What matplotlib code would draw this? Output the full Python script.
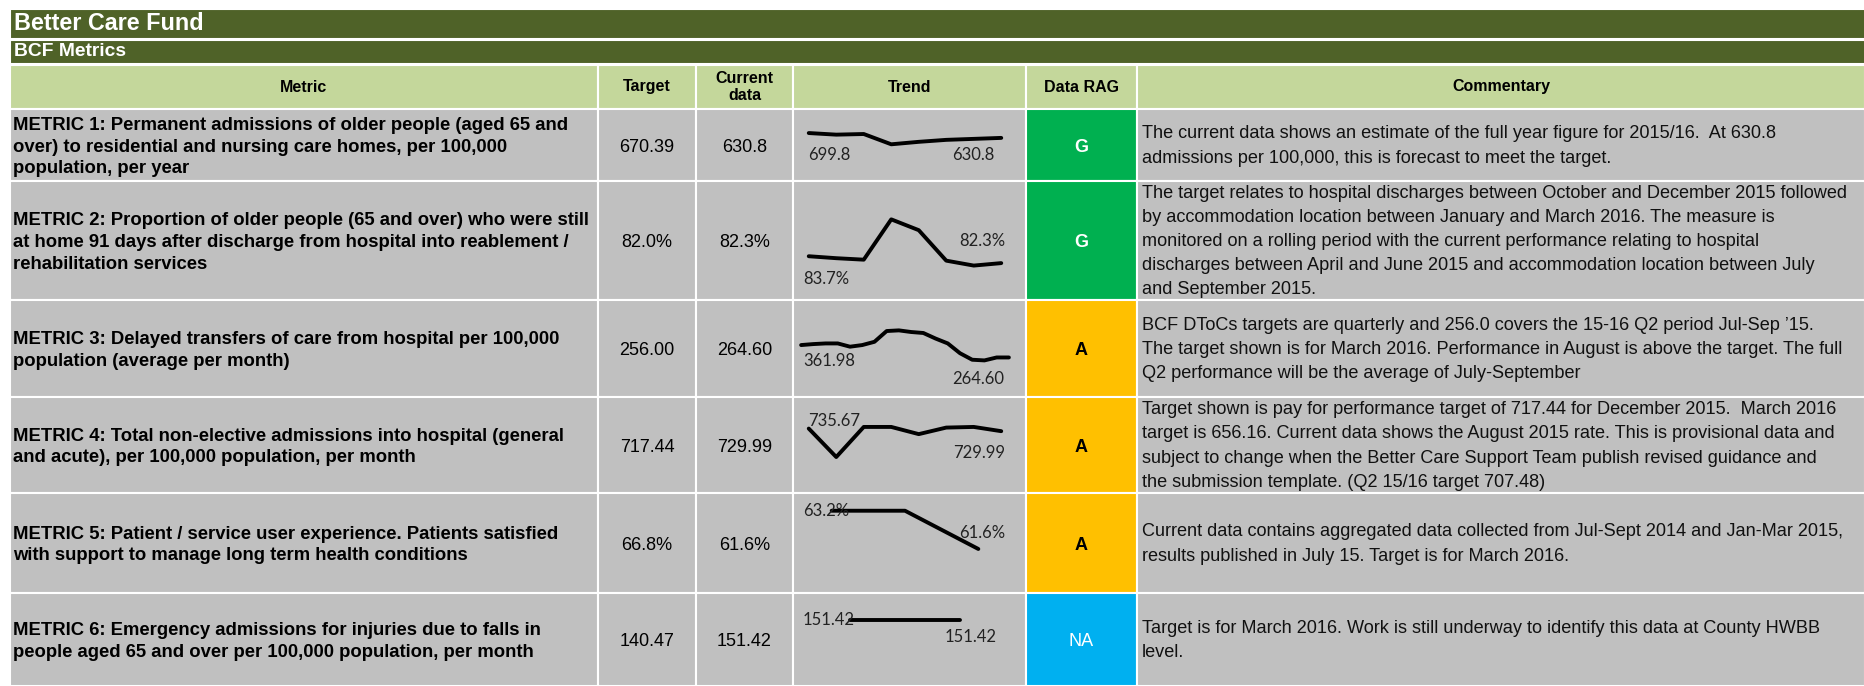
import matplotlib.pyplot as plt
from matplotlib.patches import Rectangle

# =====================
# data
# =====================
title = "Better Care Fund"
subtitle = "BCF Metrics"
headers = ["Metric", "Target", "Current\ndata", "Trend", "Data RAG", "Commentary"]

metrics = [
    "METRIC 1: Permanent admissions of older people (aged 65 and\nover) to residential and nursing care homes, per 100,000\npopulation, per year",
    "METRIC 2: Proportion of older people (65 and over) who were still\nat home 91 days after discharge from hospital into reablement /\nrehabilitation services",
    "METRIC 3: Delayed transfers of care from hospital per 100,000\npopulation (average per month)",
    "METRIC 4: Total non-elective admissions into hospital (general\nand acute), per 100,000 population, per month",
    "METRIC 5: Patient / service user experience. Patients satisfied\nwith support to manage long term health conditions",
    "METRIC 6: Emergency admissions for injuries due to falls in\npeople aged 65 and over per 100,000 population, per month",
]
targets = ["670.39", "82.0%", "256.00", "717.44", "66.8%", "140.47"]
current = ["630.8", "82.3%", "264.60", "729.99", "61.6%", "151.42"]
rag = ["G", "G", "A", "A", "A", "NA"]

trend1 = [699.8, 677, 686, 540, 575, 603, 617, 630.8]
trend2 = [83.7, 83.3, 83.0, 91.2, 89.0, 82.8, 81.8, 82.3]
trend3 = [361.98, 369.7, 374.8, 374.8, 349.2, 362.0, 387.6, 472.2, 477.3,
          464.5, 456.8, 413.2, 374.8, 297.9, 246.7, 241.5, 264.6, 264.6]
trend4 = [735.67, 673.9, 739.2, 739.2, 723.6, 737.8, 739.2, 729.99]
trend5 = [63.2, 63.2, 61.6]
trend6 = [151.42, 151.42]
trends = [trend1, trend2, trend3, trend4, trend5, trend6]
first_labels = ["699.8", "83.7%", "361.98", "735.67", "63.2%", "151.42"]
last_labels = ["630.8", "82.3%", "264.60", "729.99", "61.6%", "151.42"]

commentary = [
    "The current data shows an estimate of the full year figure for 2015/16.  At 630.8\nadmissions per 100,000, this is forecast to meet the target.",
    "The target relates to hospital discharges between October and December 2015 followed\nby accommodation location between January and March 2016. The measure is\nmonitored on a rolling period with the current performance relating to hospital\ndischarges between April and June 2015 and accommodation location between July\nand September 2015.",
    "BCF DToCs targets are quarterly and 256.0 covers the 15-16 Q2 period Jul-Sep \u201915.\nThe target shown is for March 2016. Performance in August is above the target. The full\nQ2 performance will be the average of July-September",
    "Target shown is pay for performance target of 717.44 for December 2015.  March 2016\ntarget is 656.16. Current data shows the August 2015 rate. This is provisional data and\nsubject to change when the Better Care Support Team publish revised guidance and\nthe submission template. (Q2 15/16 target 707.48)",
    "Current data contains aggregated data collected from Jul-Sept 2014 and Jan-Mar 2015,\nresults published in July 15. Target is for March 2016.",
    "Target is for March 2016. Work is still underway to identify this data at County HWBB\nlevel.",
]

# =====================
# layout / style
# =====================
W, H = 1865, 686
col_edges = [9.5, 598, 696, 793, 1026, 1137, 1865]
row_edges = [109, 181, 300, 397, 493, 593, 686]
dark_green = "#4F6228"
light_green = "#C4D79B"
grey = "#C0C0C0"
rag_colors = {"G": "#00B050", "A": "#FFC000", "NA": "#00B0F0"}
rag_text = {"G": ("white", "bold"), "A": ("black", "bold"), "NA": ("white", "normal")}
spark_ylims = [(33, 1027), (75.0, 98.8), (-38, 708), (598, 802), (59.8, 63.9), (80, 180)]
# label offsets in pixels: (ha, dx, dy) for first / last label
first_off = [("left", -1, -22), ("left", -5, -23), ("left", 2, -16),
             ("left", -1, 8), ("center", -5, 0), ("right", 5, 0)]
last_off = [("right", -7, -17), ("right", 4, 22), ("right", -5, -22),
            ("right", 4, -22), ("center", 4, 16), ("center", 11, -17)]

plt.rcParams["font.family"] = ["Liberation Sans", "DejaVu Sans"]

fig = plt.figure(figsize=(W / 100, H / 100), dpi=100)
ax = fig.add_axes([0, 0, 1, 1])
ax.set_xlim(0, W)
ax.set_ylim(H, 0)
ax.axis("off")


def cell(x0, y0, x1, y1, color):
    ax.add_patch(Rectangle((x0, y0), x1 - x0, y1 - y0, facecolor=color,
                           edgecolor="white", linewidth=1.5))


# title bars
cell(col_edges[0], 9, W + 5, 38.5, dark_green)
ax.text(14, 24, title, color="white", fontsize=16.8, fontweight="bold", va="center")
cell(col_edges[0], 39.5, W + 5, 64, dark_green)
ax.text(14, 52, subtitle, color="white", fontsize=13.9, fontweight="bold", va="center")

# header row
for i, h in enumerate(headers):
    cell(col_edges[i], 64.5, col_edges[i + 1], row_edges[0], light_green)
    ax.text((col_edges[i] + col_edges[i + 1]) / 2, 87, h, ha="center", va="center",
            fontsize=11.5, fontweight="bold", linespacing=1.15)

# body rows
for r in range(6):
    y0, y1 = row_edges[r], row_edges[r + 1]
    yc = (y0 + y1) / 2
    for c in range(6):
        color = rag_colors[rag[r]] if c == 4 else grey
        cell(col_edges[c], y0, col_edges[c + 1], y1, color)
    ax.text(13, yc + 2, metrics[r], va="center", ha="left", fontsize=13.35,
            fontweight="bold", linespacing=1.38)
    ax.text((col_edges[1] + col_edges[2]) / 2, yc + 2, targets[r], ha="center",
            va="center", fontsize=13)
    ax.text((col_edges[2] + col_edges[3]) / 2, yc + 2, current[r], ha="center",
            va="center", fontsize=13)
    tc, tw = rag_text[rag[r]]
    ax.text((col_edges[4] + col_edges[5]) / 2, yc + 2, rag[r], ha="center",
            va="center", fontsize=13, color=tc, fontweight=tw)
    ax.text(1142, yc + 1, commentary[r], ha="left", va="center", fontsize=13.1,
            linespacing=1.55, color="#111111")

    # sparkline
    sx0, sx1 = 795, 1015
    sa = fig.add_axes([sx0 / W, 1 - (y1 - 1) / H, (sx1 - sx0) / W, (y1 - y0 - 2) / H])
    sa.patch.set_alpha(0)
    sa.axis("off")
    vals = trends[r]
    xs = list(range(len(vals)))
    sa.plot(xs, vals, color="black", linewidth=2.8, solid_capstyle="round")
    sa.set_xlim(-0.5, len(vals) - 0.5)
    sa.set_ylim(*spark_ylims[r])
    ha, dx, dy = first_off[r]
    sa.annotate(first_labels[r], (xs[0], vals[0]), xytext=(dx, dy),
                textcoords="offset pixels", ha=ha, va="center",
                fontsize=12, family=["Lato", "DejaVu Sans"], color="#222222")
    ha, dx, dy = last_off[r]
    sa.annotate(last_labels[r], (xs[-1], vals[-1]), xytext=(dx, dy),
                textcoords="offset pixels", ha=ha, va="center",
                fontsize=12, family=["Lato", "DejaVu Sans"], color="#222222")

fig.savefig("out.png", dpi=100)
